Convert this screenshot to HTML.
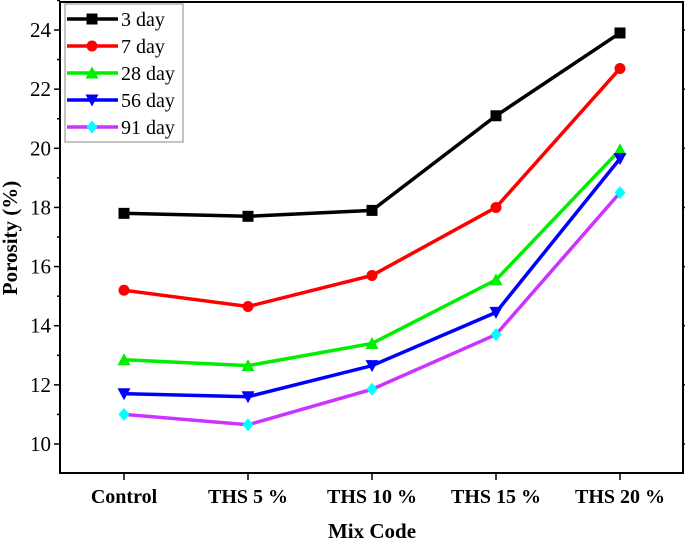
<!DOCTYPE html>
<html><head><meta charset="utf-8"><style>
body{margin:0;background:#fff}
svg{display:block;font-family:"Liberation Serif",serif}
</style></head><body>
<svg id="c" width="685" height="543"></svg>
<script>
const categories=["Control","THS 5 %","THS 10 %","THS 15 %","THS 20 %"];
const seriesNames=["3 day","7 day","28 day","56 day","91 day"];
const s3=[17.8,17.7,17.9,21.1,23.9];
const s7=[15.2,14.65,15.7,18.0,22.7];
const s28=[12.85,12.65,13.4,15.55,19.95];
const s56=[11.7,11.6,12.65,14.45,19.65];
const s91=[11.0,10.65,11.85,13.7,18.5];
const yTicks=[10,12,14,16,18,20,22,24];
const colors=["#000","#f00","#0e0","#00f","#c3f"];
const markerColors=["#000","#f00","#0e0","#00f","#0ff"];
const markers=["square","circle","tri","tridown","diamond"];
const allSeries=[s3,s7,s28,s56,s91];
const NS="http://www.w3.org/2000/svg";
const svg=document.getElementById('c');
const L=60,R=683,T=2,B=473;
const x=i=>124+i*124;
const y=v=>444-(v-10)*29.57;
function mk(t,a,p){const e=document.createElementNS(NS,t);for(const k in a)e.setAttribute(k,a[k]);(p||svg).appendChild(e);return e;}
const frame=mk('rect',{x:L,y:T,width:R-L,height:B-T,fill:'none',stroke:'#000','stroke-width':2});


yTicks.forEach(v=>{
 mk('line',{x1:L-6,x2:L,y1:y(v),y2:y(v),stroke:'#000','stroke-width':1.5});
 mk('line',{x1:L-3,x2:L,y1:y(v+1),y2:y(v+1),stroke:'#000','stroke-width':1.5});
 mk('line',{x1:R,x2:R+3,y1:y(v),y2:y(v),stroke:'#000','stroke-width':1.5});
 const t=mk('text',{x:L-9,y:y(v)+7,'text-anchor':'end','font-size':21});
 t.textContent=v;
 
 
});
categories.forEach((c,i)=>{
 mk('line',{x1:x(i),x2:x(i),y1:B,y2:B+7,stroke:'#000','stroke-width':1.5});
 const t=mk('text',{x:x(i),y:B+30,'text-anchor':'middle','font-size':20,'font-weight':'bold'});
 t.textContent=c;
 
 
});
const xt=mk('text',{x:372,y:538,'text-anchor':'middle','font-size':21,'font-weight':'bold'});
xt.textContent='Mix Code';


const yt=mk('text',{x:0,y:0,'text-anchor':'middle','font-size':21,'font-weight':'bold',transform:'translate(17,238) rotate(-90)'});
yt.textContent='Porosity (%)';


function marker(type,cx,cy,col,g){
 const s=5.5;
 if(type==='square')mk('rect',{x:cx-s,y:cy-s,width:2*s,height:2*s,fill:col},g);
 else if(type==='circle')mk('circle',{cx,cy,r:s,fill:col},g);
 else if(type==='tri')mk('polygon',{points:`${cx},${cy-s-1} ${cx-s-1},${cy+s} ${cx+s+1},${cy+s}`,fill:col},g);
 else if(type==='tridown')mk('polygon',{points:`${cx},${cy+s+1} ${cx-s-1},${cy-s} ${cx+s+1},${cy-s}`,fill:col},g);
 else mk('polygon',{points:`${cx},${cy-s-1} ${cx+s},${cy} ${cx},${cy+s+1} ${cx-s},${cy}`,fill:col},g);
}
allSeries.forEach((d,k)=>{
 const g=mk('g',{});
 
 
 mk('polyline',{points:d.map((v,i)=>x(i)+','+y(v)).join(' '),fill:'none',stroke:colors[k],'stroke-width':3.5},g);
 d.forEach((v,i)=>marker(markers[k],x(i),y(v),markerColors[k],g));
});
const lg=mk('g',{});


mk('rect',{x:65,y:4,width:118,height:138,fill:'#fff',stroke:'#888','stroke-width':1},lg);
seriesNames.forEach((n,k)=>{
 const yy=19+k*27;
 const e=mk('g',{},lg);
 
 
 mk('line',{x1:67,x2:118,y1:yy,y2:yy,stroke:colors[k],'stroke-width':3.5},e);
 marker(markers[k],92,yy,markerColors[k],e);
 const t=mk('text',{x:121,y:yy+7,'font-size':20},e);
 t.textContent=n;
});
</script>
</body></html>
